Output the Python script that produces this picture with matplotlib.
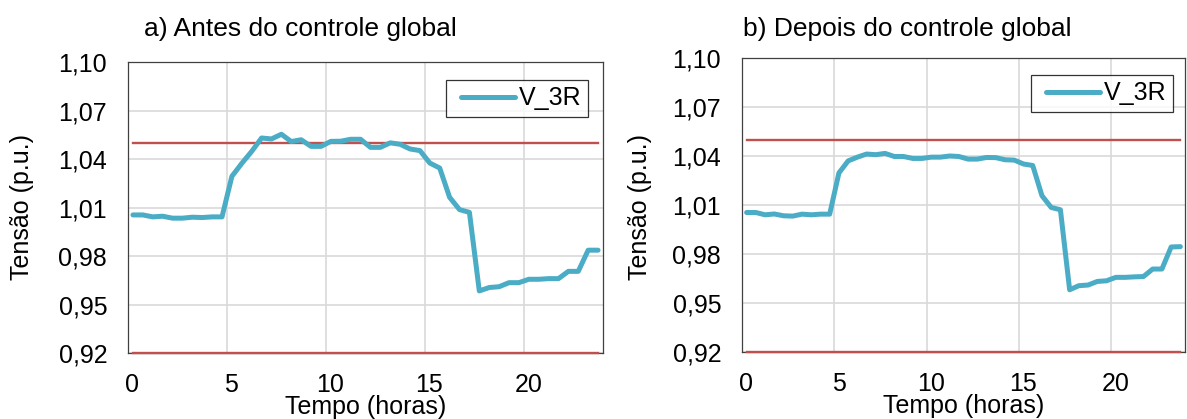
import matplotlib
matplotlib.use("Agg")
import matplotlib.pyplot as plt
from matplotlib.transforms import ScaledTranslation
from matplotlib.legend_handler import HandlerLine2D
from matplotlib.lines import Line2D
import numpy as np

plt.rcParams['font.family'] = ['Liberation Sans', 'DejaVu Sans']

# Half-hour samples over the day (midpoints of each interval)
hours = np.arange(48) * 0.5 + 0.25

v3r_before = [
    1.0054, 1.0054, 1.0042, 1.0046, 1.0034, 1.0034, 1.0040, 1.0038, 1.0042, 1.0042,
    1.0293, 1.0373, 1.0447, 1.0530, 1.0524, 1.0553, 1.0508, 1.0519, 1.0478, 1.0478,
    1.0509, 1.0510, 1.0522, 1.0522, 1.0472, 1.0472, 1.0500, 1.0491, 1.0462, 1.0452,
    1.0375, 1.0344, 1.0163, 1.0087, 1.0070, 0.9584, 0.9605, 0.9610, 0.9635, 0.9635,
    0.9656, 0.9656, 0.9660, 0.9660, 0.9705, 0.9705, 0.9836, 0.9836,
]

v3r_after = [
    1.0054, 1.0054, 1.0040, 1.0045, 1.0034, 1.0032, 1.0044, 1.0040, 1.0044, 1.0044,
    1.0296, 1.0370, 1.0393, 1.0412, 1.0408, 1.0416, 1.0397, 1.0397, 1.0385, 1.0385,
    1.0393, 1.0393, 1.0400, 1.0397, 1.0381, 1.0381, 1.0391, 1.0390, 1.0377, 1.0375,
    1.0351, 1.0342, 1.0157, 1.0085, 1.0071, 0.9581, 0.9606, 0.9610, 0.9632, 0.9636,
    0.9657, 0.9657, 0.9660, 0.9662, 0.9708, 0.9708, 0.9843, 0.9845,
]

upper_limit = 1.05
lower_limit = 0.92

y_ticks = [0.92, 0.95, 0.98, 1.01, 1.04, 1.07, 1.10]
y_tick_labels = ["0,92", "0,95", "0,98", "1,01", "1,04", "1,07", "1,10"]
x_ticks = [0, 5, 10, 15, 20]
x_tick_labels = ["0", "5", "10", "15", "20"]

titles = ["a) Antes do controle global", "b) Depois do controle global"]
series_name = "V_3R"
xlabel = "Tempo (horas)"
ylabel = "Tensão (p.u.)"

BLUE = "#4BACC6"
RED = "#C0504D"
GRID = "#D9D9D9"
SPINE = "#404040"
FS = 18
FS_TITLE = 19

W, H = 1187, 419
fig = plt.figure(figsize=(W / 100, H / 100), dpi=100)

def px_axes(x0, y0, x1, y1):
    return fig.add_axes([x0 / W, 1 - y1 / H, (x1 - x0) / W, (y1 - y0) / H])

axes = [px_axes(128, 62, 603, 353), px_axes(742, 58, 1185, 352)]
legend_anchor = [(0.968, 0.938), (0.973, 0.942)]
title_pos = [(300, 29), (907, 29)]
ylabel_x = [22, 640]

for k, (ax, vals) in enumerate(zip(axes, [v3r_before, v3r_after])):
    ax.plot(hours, [upper_limit] * len(hours), color=RED, lw=1.7, zorder=3)
    ax.plot(hours, [lower_limit] * len(hours), color=RED, lw=1.7, zorder=3,
            clip_on=False)
    line, = ax.plot(hours, vals, color=BLUE, lw=3.6, label=series_name, zorder=4,
                    solid_joinstyle='round', solid_capstyle='round')

    ax.set_xlim(0, 24)
    ax.set_ylim(0.92, 1.10)
    ax.set_xticks(x_ticks)
    ax.set_xticklabels(x_tick_labels)
    ax.set_yticks(y_ticks)
    ax.set_yticklabels(y_tick_labels)
    ax.tick_params(axis='both', length=0, labelsize=FS)
    ax.tick_params(axis='y', pad=15)
    ax.tick_params(axis='x', pad=14.5)
    for lab in ax.get_xticklabels():
        lab.set_transform(lab.get_transform() +
                          ScaledTranslation(0.045, 0, fig.dpi_scale_trans))

    ax.grid(True, color=GRID, lw=1.2, zorder=0)
    ax.set_axisbelow(True)
    for sp in ax.spines.values():
        sp.set_color(SPINE)
        sp.set_linewidth(0.9)

    ax.set_xlabel(xlabel, fontsize=FS, labelpad=-1.5)

    leg = ax.legend(handles=[line], loc='upper right',
                    bbox_to_anchor=legend_anchor[k],
                    fontsize=FS, frameon=True, fancybox=False,
                    handlelength=2.5, handletextpad=0.16, borderpad=0.25,
                    borderaxespad=0.0,
                    handler_map={Line2D: HandlerLine2D(xpad=0.34)})
    leg.get_frame().set_edgecolor("#000000")
    leg.get_frame().set_linewidth(0.9)

    tx, ty = title_pos[k]
    fig.text(tx / W, 1 - ty / H, titles[k], fontsize=FS_TITLE,
             ha='center', va='center')
    fig.text(ylabel_x[k] / W, 1 - 207 / H, ylabel, fontsize=FS, rotation=90,
             ha='center', va='center')

fig.savefig("out.png", dpi=100)
